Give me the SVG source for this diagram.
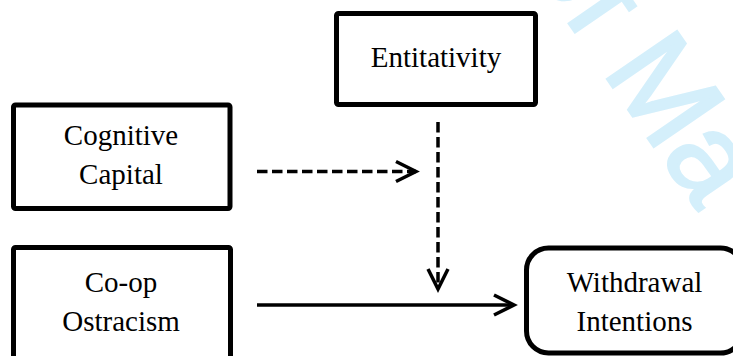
<svg xmlns="http://www.w3.org/2000/svg" width="733" height="356" viewBox="0 0 733 356">
<style>
.box{fill:#fff;stroke:#000;stroke-width:5}
.lbl{font-family:"Liberation Serif","Times New Roman",serif;font-size:29px;fill:#000;text-anchor:middle}
.conn{stroke:#000;stroke-width:3.5;fill:none}
.dash{stroke-dasharray:10.5 4.5}
.wm{font-family:"Liberation Sans",Arial,sans-serif;font-size:123px;fill:#d4effb;stroke:#d4effb;stroke-width:2.5}
</style>
<defs>
<marker id="arr" viewBox="-24 -14 28 28" refX="0" refY="0" markerWidth="28" markerHeight="28" markerUnits="userSpaceOnUse" orient="auto">
<path d="M-20,-10 L0,0 L-20,10" fill="none" stroke="#000" stroke-width="3.5"/>
</marker>
</defs>
<rect width="733" height="356" fill="#fff"/>
<text class="wm" transform="translate(524,-42) rotate(55.5)">of Ma</text>
<g id="entitativity">
<rect class="box" x="336.5" y="13.5" width="199" height="91" rx="2"/>
<text class="lbl" x="436" y="67">Entitativity</text>
</g>
<g id="cognitive-capital">
<rect class="box" x="13.5" y="105" width="216.5" height="103.5" rx="2"/>
<text class="lbl" x="121" y="145">Cognitive</text>
<text class="lbl" x="121" y="184">Capital</text>
</g>
<g id="coop-ostracism">
<rect class="box" x="13.5" y="247.5" width="217" height="115" rx="2"/>
<text class="lbl" x="121" y="292">Co-op</text>
<text class="lbl" x="121" y="331">Ostracism</text>
</g>
<g id="withdrawal-intentions">
<rect class="box" x="526.5" y="248" width="216" height="105" rx="22"/>
<text class="lbl" x="634.5" y="292">Withdrawal</text>
<text class="lbl" x="634.5" y="331">Intentions</text>
</g>
<g id="connectors">
<line class="conn dash" x1="257" y1="171.5" x2="416" y2="171.5" marker-end="url(#arr)"/>
<line class="conn dash" x1="438" y1="122" x2="438" y2="289" marker-end="url(#arr)"/>
<line class="conn" x1="257" y1="305" x2="514" y2="305" marker-end="url(#arr)"/>
</g>
</svg>
